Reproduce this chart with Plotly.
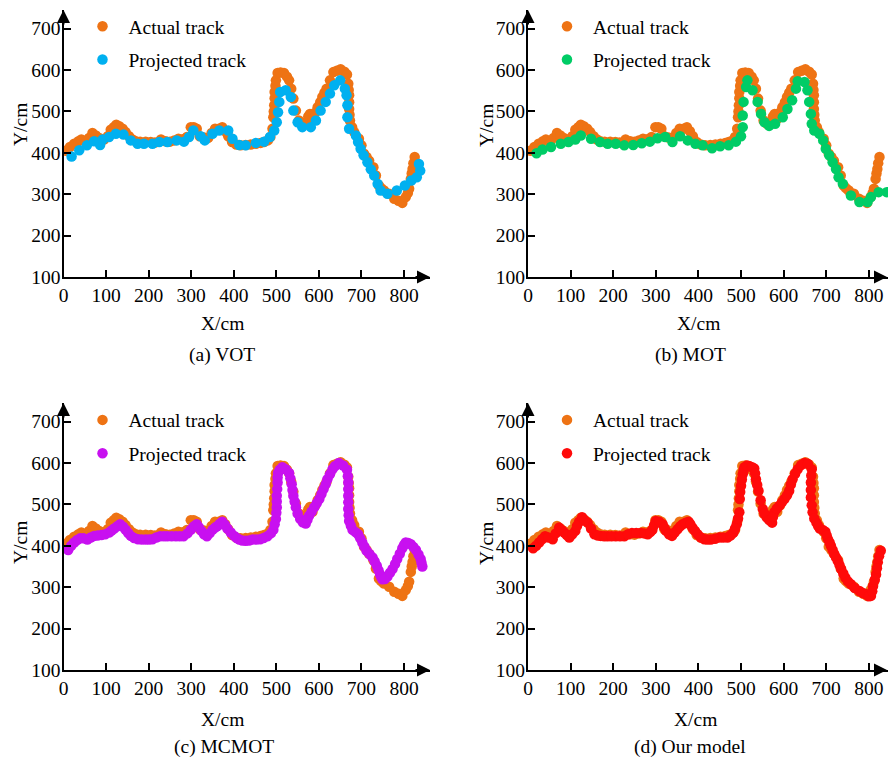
import plotly.graph_objects as go

W, H = 888, 758
def px(x): return x / W
def py(y): return 1 - y / H

FONT = "Liberation Serif"
FS = 19.5

# ---------------- data ----------------
actual_x = [5, 15, 25, 35, 42, 52, 60, 68, 76, 84, 95, 104, 111, 118, 124, 131, 139, 146, 154, 162,
            170, 180, 193, 205, 215, 229, 240, 250, 260, 270, 280, 290, 299, 306, 313, 320, 330, 340,
            348, 356, 365, 373, 380, 387, 396, 406, 416, 428, 440, 452, 463, 471, 480, 486, 491, 493,
            494, 495, 496, 496, 498, 499, 503, 510, 518, 525, 530, 535, 540, 546, 553, 561, 569, 575,
            579, 585, 591, 597, 603, 608, 613, 618, 626, 634, 642, 651, 660, 666, 669, 670, 671, 671,
            671, 672, 673, 678, 683, 694, 700, 706, 712, 718, 728, 734, 741, 747, 753, 765, 777, 787,
            796, 804, 809, 812, 816, 818, 820, 822, 825]
actual_y = [405, 414, 422, 428, 432, 426, 436, 448, 442, 436, 432, 440, 456, 462, 468, 464, 458, 450, 440, 432,
            428, 427, 427, 426, 425, 432, 428, 427, 430, 434, 433, 438, 462, 462, 458, 440, 437, 436,
            448, 458, 458, 462, 452, 440, 426, 420, 418, 419, 420, 422, 424, 426, 430, 438, 458, 486,
            500, 515, 532, 547, 562, 575, 593, 594, 593, 584, 575, 555, 531, 502, 478, 470, 474, 488,
            494, 482, 497, 510, 522, 535, 545, 555, 575, 595, 598, 602, 596, 589, 567, 552, 539, 522,
            506, 492, 478, 462, 450, 434, 418, 398, 390, 381, 365, 345, 321, 314, 309, 301, 289, 284,
            279, 293, 303, 313, 337, 350, 361, 375, 390]

vot_x = [19, 37, 55, 72, 86, 92, 107, 123, 141, 158, 174, 189, 209, 225, 244, 266, 283, 295, 305, 322,
         332, 350, 366, 387, 397, 413, 428, 452, 471, 485, 495, 501, 504, 507, 509, 522, 534, 540, 550,
         561, 581, 593, 604, 616, 626, 636, 650, 661, 665, 667, 667, 671, 687, 692, 698, 705, 714, 722,
         730, 738, 745, 761, 783, 802, 817, 830, 838, 835]
vot_y = [391, 406, 418, 428, 419, 432, 438, 446, 444, 430, 422, 422, 422, 426, 426, 430, 427, 438, 454, 440,
         430, 446, 454, 454, 434, 419, 418, 424, 427, 438, 454, 474, 498, 523, 547, 551, 535, 502, 474,
         462, 462, 478, 502, 523, 543, 563, 575, 555, 539, 515, 486, 458, 442, 426, 410, 394, 377, 360,
         345, 325, 309, 301, 309, 321, 333, 341, 357, 373]

mot_x = [20, 34, 54, 77, 95, 111, 124, 148, 169, 187, 206, 226, 247, 267, 286, 304, 322, 339, 357, 375,
         393, 410, 432, 451, 471, 488, 500, 504, 504, 506, 512, 515, 527, 539, 547, 555, 566, 580, 598,
         609, 620, 629, 633, 649, 656, 660, 664, 666, 672, 684, 693, 699, 707, 715, 723, 729, 739, 758,
         778, 797, 805, 823, 842]
mot_y = [399, 408, 414, 422, 426, 432, 442, 434, 426, 422, 422, 418, 419, 423, 427, 435, 438, 426, 440, 430,
         422, 418, 411, 416, 418, 427, 440, 462, 490, 523, 559, 575, 551, 523, 494, 474, 465, 470, 486,
         506, 527, 555, 573, 571, 551, 523, 494, 470, 454, 446, 430, 410, 394, 377, 361, 341, 325, 297,
         281, 281, 293, 305, 305]

mcmot_x = [11, 25, 39, 56, 72, 89, 107, 119, 133, 146, 158, 175, 193, 209, 227, 244, 264, 282, 299, 313,
           324, 337, 350, 362, 373, 385, 401, 413, 428, 444, 462, 479, 493, 499, 501, 501, 503, 504, 514,
           530, 536, 540, 546, 556, 569, 577, 589, 601, 611, 620, 632, 647, 666, 669, 669, 669, 671, 679,
           692, 702, 712, 726, 736, 744, 749, 761, 773, 784, 796, 804, 816, 828, 839, 843,
           18, 32, 47, 64, 80, 98, 113, 126, 140, 152, 166, 184, 201, 218, 236, 254, 273, 291, 306, 318,
           330, 343, 356, 367, 379, 393, 407, 420, 436, 453, 470, 487, 496, 500, 501, 502, 503, 508, 522,
           533, 538, 543, 550, 562, 573, 583, 595, 606, 616, 626, 638, 657, 668, 669, 669, 670, 675, 686,
           697, 707, 719, 731, 740, 746, 755, 767, 779, 790, 800, 810, 822, 834, 841]
mcmot_y = [390, 408, 418, 415, 424, 426, 432, 442, 452, 439, 424, 416, 415, 416, 423, 423, 423, 423, 439, 452,
           436, 423, 439, 448, 458, 442, 424, 415, 412, 415, 416, 423, 439, 465, 493, 521, 553, 576, 590,
           576, 549, 521, 493, 465, 454, 473, 493, 513, 537, 561, 585, 600, 584, 553, 521, 489, 460, 439,
           428, 408, 388, 372, 352, 331, 319, 326, 344, 368, 394, 408, 404, 390, 368, 350,
           400, 414, 418, 420, 425, 428, 437, 447, 446, 431, 419, 415, 415, 420, 423, 423, 423, 430, 447, 445,
           428, 430, 444, 453, 451, 432, 419, 413, 413, 415, 419, 430, 452, 480, 507, 537, 565, 584, 585,
           563, 535, 507, 478, 457, 463, 483, 503, 525, 549, 573, 593, 594, 568, 537, 505, 474, 449, 433,
           418, 398, 380, 362, 341, 325, 320, 335, 356, 381, 402, 407, 397, 379, 359]

ours_x = [12, 26, 40, 58, 73, 85, 97, 111, 120, 127, 140, 156, 171, 187, 206, 226, 244, 265, 281, 292,
          300, 316, 324, 338, 351, 363, 377, 386, 398, 414, 429, 449, 468, 482, 490, 496, 497, 500, 504,
          508, 520, 531, 535, 541, 551, 560, 573, 578, 590, 602, 613, 621, 633, 649, 666, 664, 664, 668,
          677, 685, 698, 704, 711, 719, 727, 735, 745, 758, 778, 793, 805, 810, 817, 821, 828,
          19, 33, 48, 65, 79, 91, 104, 115, 133, 148, 164, 179, 196, 216, 235, 254, 273, 287, 296, 308,
          320, 331, 344, 357, 370, 381, 392, 406, 421, 439, 458, 475, 486, 493, 498, 502, 506, 514, 526,
          533, 538, 546, 555, 566, 575, 584, 596, 608, 617, 627, 641, 657, 665, 664, 666, 672, 681, 692,
          701, 708, 715, 723, 731, 740, 751, 767, 786, 800, 808, 814, 819, 824]
ours_y = [394, 408, 423, 416, 444, 432, 420, 436, 458, 469, 456, 428, 424, 423, 423, 423, 431, 431, 428, 439,
          460, 452, 436, 424, 440, 452, 458, 444, 428, 416, 415, 420, 420, 432, 452, 481, 513, 545, 573,
          590, 592, 587, 561, 533, 489, 469, 456, 481, 497, 513, 533, 561, 585, 600, 585, 553, 517, 481,
          456, 442, 434, 416, 400, 380, 364, 344, 323, 307, 291, 283, 279, 303, 331, 360, 388,
          400, 416, 420, 430, 438, 426, 428, 448, 462, 442, 425, 423, 423, 423, 428, 431, 430, 433, 450, 458,
          444, 428, 432, 447, 456, 452, 436, 420, 415, 417, 420, 425, 442, 466, 530, 560, 582, 594, 590,
          575, 547, 510, 478, 462, 470, 490, 505, 522, 548, 574, 595, 598, 570, 535, 498, 466, 448, 438,
          425, 408, 390, 372, 354, 333, 314, 298, 286, 278, 290, 318, 346, 375]

x_ticks = [0, 100, 200, 300, 400, 500, 600, 700, 800]
y_ticks = [100, 200, 300, 400, 500, 600, 700]

series_names = ["Actual track", "Projected track"]
captions = ["(a) VOT", "(b) MOT", "(c) MCMOT", "(d) Our model"]
x_title = "X/cm"
y_title = "Y/cm"

ORANGE = "#EE7314"
proj_colors = ["#00B0F0", "#00CC66", "#C810F0", "#FF0A0A"]
proj_x = [vot_x, mot_x, mcmot_x, ours_x]
proj_y = [vot_y, mot_y, mcmot_y, ours_y]

# ---------------- layout geometry (pixels) ----------------
LEFT = (63.5, 430.0, 861.0)
RIGHT = (528.0, 888.0, 845.0)
TOP = (277.0, 10.0)
BOT = (670.0, 403.0)
YMAX = 745
geom = [(LEFT, TOP), (RIGHT, TOP), (LEFT, BOT), (RIGHT, BOT)]
legend_top = [7.0, 7.0, 400.7, 400.7]

fig = go.Figure()
layout = {}

for i in range(4):
    (gx0, gx1, xmax), (gyb, gyt) = geom[i]
    sfx = "" if i == 0 else str(i + 1)
    xa, ya = "x" + sfx, "y" + sfx
    leg = "legend" + sfx
    fig.add_trace(go.Scatter(
        x=actual_x, y=actual_y, mode="markers", name=series_names[0],
        marker=dict(color=ORANGE, size=10.5, line=dict(width=0)),
        xaxis=xa, yaxis=ya, legend=leg, legendgroup="a%d" % i))
    fig.add_trace(go.Scatter(
        x=proj_x[i], y=proj_y[i], mode="markers", name=series_names[1],
        marker=dict(color=proj_colors[i], size=10.5, line=dict(width=0)),
        xaxis=xa, yaxis=ya, legend=leg, legendgroup="p%d" % i))

    axis_common = dict(showgrid=False, zeroline=False, showline=True, linecolor="black",
                       linewidth=2, ticks="inside", ticklen=7, tickwidth=1.5, tickcolor="black",
                       automargin=False,
                       tickfont=dict(family=FONT, size=FS, color="black"))
    layout["xaxis" + sfx] = dict(axis_common, domain=[px(gx0), px(gx1)], range=[0, xmax],
                                 tickvals=x_ticks, anchor=ya)
    layout["yaxis" + sfx] = dict(axis_common, domain=[py(gyb), py(gyt)], range=[100, YMAX],
                                 tickvals=y_ticks, anchor=xa, ticklabelstandoff=-3)
    layout[leg] = dict(x=px(gx0 + 13), y=py(legend_top[i]), xanchor="left", yanchor="top",
                       bgcolor="rgba(0,0,0,0)", traceorder="grouped", tracegroupgap=5,
                       itemwidth=42,
                       font=dict(family=FONT, size=FS, color="black"), itemsizing="trace")

annotations = []
cap_pos = [(222, 355), (690, 355), (224, 747), (690, 747)]
xt_pos = [(222, 323), (698, 323), (222, 719), (695, 719)]
yt_pos = [(20, 125), (486, 125), (20, 543), (486, 543)]
def txt(s, x, y, angle=0):
    return dict(text=s, x=px(x), y=py(y), xref="paper", yref="paper", showarrow=False,
                xanchor="center", yanchor="middle", textangle=angle,
                font=dict(family=FONT, size=FS, color="black"))
for i in range(4):
    (gx0, gx1, xmax), (gyb, gyt) = geom[i]
    annotations.append(txt(captions[i], *cap_pos[i]))
    annotations.append(txt(x_title, *xt_pos[i]))
    annotations.append(txt(y_title, *yt_pos[i], angle=-90))
    # axis arrows
    tipx = gx1 if gx1 < 880 else 897
    annotations.append(dict(text="", x=px(tipx), y=py(gyb), xref="paper", yref="paper",
                            showarrow=True, ax=-16, ay=0, arrowhead=2, arrowsize=1.3,
                            arrowwidth=2, arrowcolor="black"))
    annotations.append(dict(text="", x=px(gx0), y=py(gyt), xref="paper", yref="paper",
                            showarrow=True, ax=0, ay=16, arrowhead=2, arrowsize=1.3,
                            arrowwidth=2, arrowcolor="black"))

fig.update_layout(width=W, height=H, margin=dict(l=0, r=0, t=0, b=0, autoexpand=False),
                  paper_bgcolor="white", plot_bgcolor="white",
                  showlegend=True, annotations=annotations, **layout)

css = ("var s=document.createElement('style');"
       "s.innerHTML='html,body{margin:0;padding:0;overflow:hidden;width:888px;height:758px;}';"
       "document.head.appendChild(s);")
fig.write_html("out.html", config={"displayModeBar": False}, post_script=css)
